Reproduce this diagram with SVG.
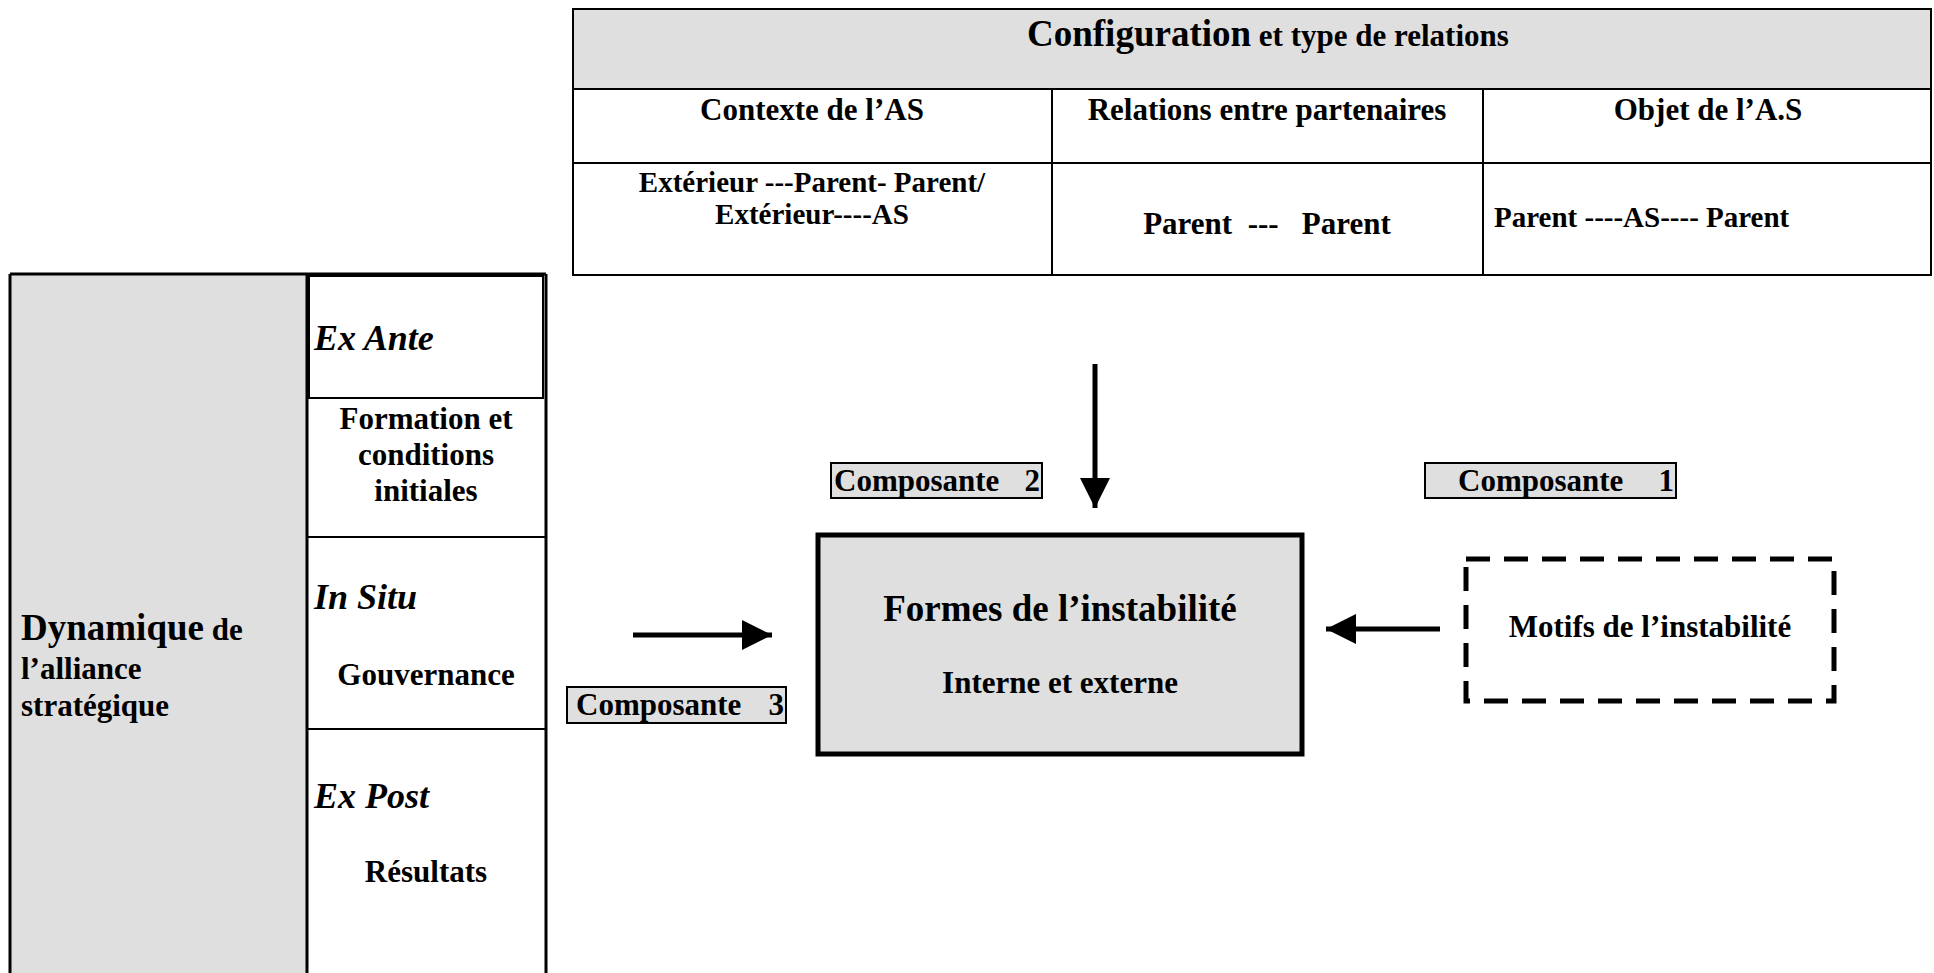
<svg xmlns="http://www.w3.org/2000/svg" width="1934" height="973" viewBox="0 0 1934 973">
  <style>
    text { font-family: "Liberation Serif", "Times New Roman", serif; font-weight: bold; fill: #000; }
    .t { font-size: 31px; }
    .s { font-size: 29px; }
    .big { font-size: 37px; }
    .it { font-style: italic; font-size: 36px; }
    .mid { text-anchor: middle; }
    .line { stroke: #000; stroke-width: 2; fill: none; }
    .gray { fill: #dfdfdf; }
    .tag { fill: #dfdfdf; stroke: #000; stroke-width: 2; }
    .conn { stroke: #000; stroke-width: 5; fill: none; }
  </style>
  <defs>
    <marker id="head" viewBox="0 0 10 10" refX="10" refY="5" markerWidth="6" markerHeight="6" markerUnits="strokeWidth" orient="auto">
      <path d="M0,0 L10,5 L0,10 Z" fill="#000"/>
    </marker>
  </defs>
  <rect width="1934" height="973" fill="#fff"/>

  <!-- Configuration table -->
  <g id="config-table">
    <rect x="573" y="9" width="1358" height="80" class="gray"/>
    <rect x="573" y="9" width="1358" height="266" class="line"/>
    <line x1="573" y1="89" x2="1931" y2="89" class="line"/>
    <line x1="573" y1="163" x2="1931" y2="163" class="line"/>
    <line x1="1052" y1="89" x2="1052" y2="275" class="line"/>
    <line x1="1483" y1="89" x2="1483" y2="275" class="line"/>
    <text x="1027" y="46"><tspan class="big">Configuration</tspan><tspan class="t"> et type de relations</tspan></text>
    <text x="812" y="120" class="t mid">Contexte de l’AS</text>
    <text x="1267" y="120" class="t mid">Relations entre partenaires</text>
    <text x="1708" y="120" class="t mid">Objet de l’A.S</text>
    <text x="812" y="192" class="s mid">Extérieur ---Parent- Parent/</text>
    <text x="812" y="224" class="s mid">Extérieur----AS</text>
    <text x="1267" y="234" class="t mid" xml:space="preserve">Parent  ---   Parent</text>
    <text x="1494" y="227" class="s">Parent ----AS---- Parent</text>
  </g>

  <!-- Alliance dynamics panel -->
  <g id="dynamics-panel">
    <rect x="10" y="274" width="296" height="710" class="gray"/>
    <line x1="10" y1="274" x2="546" y2="274" stroke="#000" stroke-width="3"/>
    <line x1="10" y1="274" x2="10" y2="973" stroke="#000" stroke-width="3"/>
    <line x1="307" y1="274" x2="307" y2="973" stroke="#000" stroke-width="3"/>
    <line x1="546" y1="274" x2="546" y2="973" stroke="#000" stroke-width="3"/>
    <text x="21" y="640"><tspan class="big">Dynamique</tspan><tspan class="t"> de</tspan></text>
    <text x="21" y="679" class="t">l’alliance</text>
    <text x="21" y="716" class="t">stratégique</text>
  </g>

  <g id="phase-ex-ante">
    <rect x="309" y="276" width="234" height="122" class="line"/>
    <text x="314" y="350" class="it">Ex Ante</text>
    <text x="426" y="429" class="t mid">Formation et</text>
    <text x="426" y="465" class="t mid">conditions</text>
    <text x="426" y="501" class="t mid">initiales</text>
    <line x1="307" y1="537" x2="546" y2="537" class="line" stroke-width="3"/>
  </g>

  <g id="phase-in-situ">
    <text x="314" y="609" class="it">In Situ</text>
    <text x="426" y="685" class="t mid">Gouvernance</text>
    <line x1="307" y1="729" x2="546" y2="729" class="line" stroke-width="3"/>
  </g>

  <g id="phase-ex-post">
    <text x="314" y="808" class="it">Ex Post</text>
    <text x="426" y="882" class="t mid">Résultats</text>
  </g>

  <!-- Central node -->
  <g id="formes">
    <rect x="818" y="535" width="484" height="219" fill="#dfdfdf" stroke="#000" stroke-width="5"/>
    <text x="1060" y="621" class="big mid">Formes de l’instabilité</text>
    <text x="1060" y="693" class="t mid">Interne et externe</text>
  </g>

  <g id="motifs">
    <rect x="1466" y="559" width="368" height="142" fill="none" stroke="#000" stroke-width="5" stroke-dasharray="24 14"/>
    <text x="1650" y="637" class="t mid">Motifs de l’instabilité</text>
  </g>

  <g id="composante-1">
    <rect x="1425" y="463" width="251" height="35" class="tag"/>
    <text x="1458" y="491" class="t">Composante</text>
    <text x="1674" y="491" class="t" text-anchor="end">1</text>
  </g>

  <g id="composante-2">
    <rect x="831" y="463" width="211" height="35" class="tag"/>
    <text x="834" y="491" class="t">Composante</text>
    <text x="1040" y="491" class="t" text-anchor="end">2</text>
  </g>

  <g id="composante-3">
    <rect x="567" y="687" width="219" height="36" class="tag"/>
    <text x="576" y="715" class="t">Composante</text>
    <text x="784" y="715" class="t" text-anchor="end">3</text>
  </g>

  <!-- Connectors -->
  <g id="connectors">
    <line x1="1095" y1="364" x2="1095" y2="508" class="conn" marker-end="url(#head)"/>
    <line x1="633" y1="635" x2="772" y2="635" class="conn" marker-end="url(#head)"/>
    <line x1="1440" y1="629" x2="1326" y2="629" class="conn" marker-end="url(#head)"/>
  </g>
</svg>
